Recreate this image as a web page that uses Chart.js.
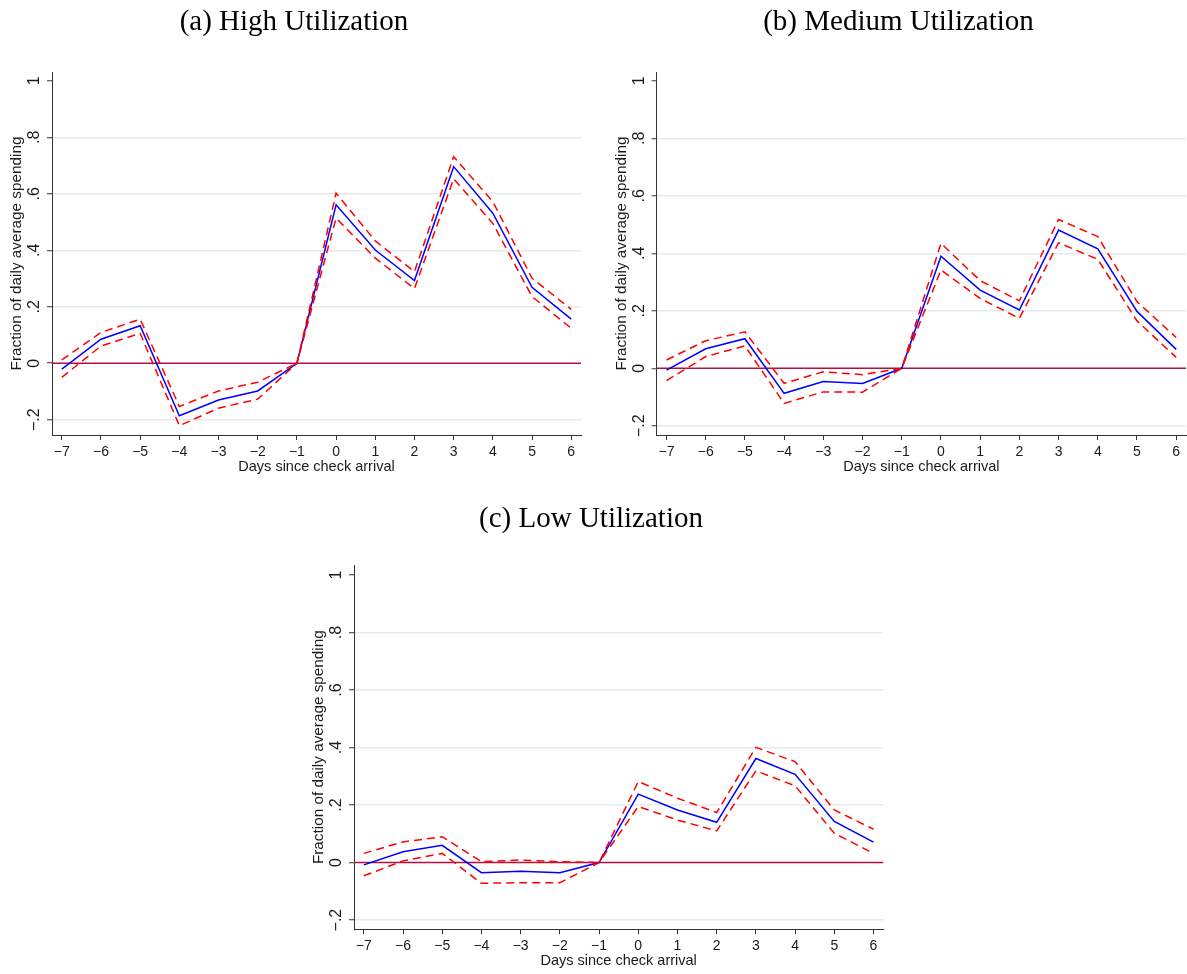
<!DOCTYPE html>
<html>
<head>
<meta charset="utf-8">
<script src="https://cdn.jsdelivr.net/npm/chart.js@4.4.1/dist/chart.umd.min.js"></script>
<style>
  html, body { margin: 0; padding: 0; background: #ffffff; }
  body { width: 1187px; height: 974px; position: relative; overflow: hidden; }
  canvas { position: absolute; }
</style>
</head>
<body>
<canvas id="panelA" width="595" height="480" style="left:0px;top:0px;width:595px;height:480px"></canvas>
<canvas id="panelB" width="592" height="480" style="left:595px;top:0px;width:592px;height:480px"></canvas>
<canvas id="panelC" width="600" height="484" style="left:295px;top:490px;width:600px;height:484px"></canvas>
<script>
// Days relative to the check arrival
const days = [-7, -6, -5, -4, -3, -2, -1, 0, 1, 2, 3, 4, 5, 6];

// High utilization: point estimate and 95% band
const highMean  = [-0.021, 0.085, 0.133, -0.186, -0.130, -0.098, 0, 0.561, 0.401, 0.293, 0.696, 0.531, 0.269, 0.156];
const highUpper = [0.012, 0.109, 0.156, -0.153, -0.098, -0.067, 0, 0.602, 0.433, 0.324, 0.731, 0.572, 0.301, 0.191];
const highLower = [-0.050, 0.061, 0.106, -0.221, -0.159, -0.127, 0, 0.514, 0.372, 0.264, 0.653, 0.495, 0.236, 0.124];

// Medium utilization
const medMean  = [-0.006, 0.068, 0.103, -0.087, -0.046, -0.053, 0, 0.390, 0.272, 0.203, 0.481, 0.416, 0.198, 0.066];
const medUpper = [0.029, 0.096, 0.127, -0.052, -0.012, -0.022, 0, 0.435, 0.305, 0.235, 0.518, 0.458, 0.232, 0.107];
const medLower = [-0.043, 0.041, 0.078, -0.122, -0.082, -0.083, 0, 0.342, 0.243, 0.174, 0.437, 0.379, 0.165, 0.038];

// Low utilization
const lowMean  = [-0.008, 0.038, 0.060, -0.035, -0.030, -0.035, 0, 0.238, 0.183, 0.140, 0.362, 0.307, 0.143, 0.071];
const lowUpper = [0.032, 0.072, 0.090, 0.003, 0.009, 0.003, 0, 0.282, 0.224, 0.174, 0.401, 0.351, 0.183, 0.116];
const lowLower = [-0.046, 0.006, 0.032, -0.072, -0.070, -0.070, 0, 0.195, 0.148, 0.110, 0.319, 0.267, 0.102, 0.032];

// Axis ticks
const xTickValues = [-7, -6, -5, -4, -3, -2, -1, 0, 1, 2, 3, 4, 5, 6];
const xTickLabels = ['\u22127', '\u22126', '\u22125', '\u22124', '\u22123', '\u22122', '\u22121', '0', '1', '2', '3', '4', '5', '6'];
const yTickValues = [-0.2, 0, 0.2, 0.4, 0.6, 0.8, 1];
const yTickLabels = ['\u2212.2', '0', '.2', '.4', '.6', '.8', '1'];
const yGridValues = [-0.2, 0.2, 0.4, 0.6, 0.8];

const panelTitles = ['(a) High Utilization', '(b) Medium Utilization', '(c) Low Utilization'];
const xAxisTitle = 'Days since check arrival';
const yAxisTitle = 'Fraction of daily average spending';

const SANS = '"Liberation Sans", Arial, Helvetica, sans-serif';
const SERIF = '"Liberation Serif", "Times New Roman", serif';
const AXIS_COLOR = '#333333';
const TEXT_COLOR = '#1a1a1a';

function pts(vals) {
  return days.map((d, i) => ({ x: d, y: vals[i] }));
}

// Draws the zero reference line, tick labels, axis titles and panel title
const decorations = {
  id: 'decorations',
  beforeDatasetsDraw(chart) {
    const { ctx, chartArea, scales } = chart;
    const y0 = scales.y.getPixelForValue(0);
    ctx.save();
    ctx.strokeStyle = '#b3123f';
    ctx.lineWidth = 1.5;
    ctx.beginPath();
    ctx.moveTo(chartArea.left, y0);
    ctx.lineTo(chartArea.right, y0);
    ctx.stroke();
    ctx.restore();
  },
  afterDraw(chart) {
    const { ctx, chartArea, scales } = chart;
    const o = chart.options.plugins.decorations;
    ctx.save();
    ctx.fillStyle = TEXT_COLOR;
    ctx.textAlign = 'center';
    ctx.textBaseline = 'middle';
    ctx.font = '14px ' + SANS;
    xTickValues.forEach((v, i) => {
      ctx.fillText(xTickLabels[i], scales.x.getPixelForValue(v), chartArea.bottom + 17);
    });
    ctx.font = '14.5px ' + SANS;
    ctx.fillText(xAxisTitle, (chartArea.left + chartArea.right) / 2, chartArea.bottom + 32);
    ctx.font = '16px ' + SANS;
    yTickValues.forEach((v, i) => {
      ctx.save();
      ctx.translate(chartArea.left - 17, scales.y.getPixelForValue(v));
      ctx.rotate(-Math.PI / 2);
      ctx.fillText(yTickLabels[i], 0, 0);
      ctx.restore();
    });
    ctx.font = '15.3px ' + SANS;
    ctx.save();
    ctx.translate(chartArea.left - 35, (chartArea.top + chartArea.bottom) / 2);
    ctx.rotate(-Math.PI / 2);
    ctx.fillText(yAxisTitle, 0, 0);
    ctx.restore();
    ctx.fillStyle = '#000000';
    ctx.font = '29px ' + SERIF;
    ctx.textBaseline = 'alphabetic';
    ctx.fillText(o.title, o.titleX, o.titleY);
    ctx.restore();
  }
};

function makePanel(id, mean, upper, lower, cfg) {
  const band = {
    borderColor: '#ff0000',
    borderWidth: 1.5,
    borderDash: [8, 5],
    pointRadius: 0,
    tension: 0,
    fill: false
  };
  new Chart(document.getElementById(id), {
    type: 'line',
    data: {
      datasets: [
        Object.assign({ label: 'Upper bound', data: pts(upper) }, band),
        Object.assign({ label: 'Lower bound', data: pts(lower) }, band),
        {
          label: 'Estimate',
          data: pts(mean),
          borderColor: '#0000ff',
          borderWidth: 1.5,
          pointRadius: 0,
          tension: 0,
          fill: false
        }
      ]
    },
    options: {
      responsive: false,
      animation: false,
      events: [],
      layout: { padding: { top: cfg.top, right: cfg.right, left: 0, bottom: 0 } },
      plugins: {
        legend: { display: false },
        tooltip: { enabled: false },
        decorations: { title: cfg.title, titleX: cfg.titleX, titleY: cfg.titleY }
      },
      scales: {
        x: {
          type: 'linear',
          min: -7.25,
          max: 6.25,
          afterBuildTicks: s => { s.ticks = xTickValues.map(v => ({ value: v })); },
          afterFit: s => { s.height = cfg.xHeight; },
          ticks: { display: false },
          grid: { drawOnChartArea: false, drawTicks: true, tickLength: 5, tickColor: AXIS_COLOR, tickWidth: 1 },
          border: { display: true, color: AXIS_COLOR, width: 1 }
        },
        y: {
          type: 'linear',
          min: cfg.yMin,
          max: cfg.yMax,
          afterBuildTicks: s => { s.ticks = yTickValues.map(v => ({ value: v })); },
          afterFit: s => { s.width = cfg.yWidth; },
          ticks: { display: false },
          grid: {
            drawOnChartArea: true,
            drawTicks: true,
            tickLength: 5,
            tickColor: AXIS_COLOR,
            tickWidth: 1,
            lineWidth: 1.5,
            color: c => (c.tick && yGridValues.some(g => Math.abs(g - c.tick.value) < 1e-9)) ? '#e3ebee' : 'rgba(0,0,0,0)'
          },
          border: { display: true, color: AXIS_COLOR, width: 1 }
        }
      }
    },
    plugins: [decorations]
  });
}

makePanel('panelA', highMean, highUpper, highLower, {
  top: 72, right: 14, xHeight: 45, yWidth: 52,
  yMin: -0.254, yMax: 1.031,
  title: panelTitles[0], titleX: 294, titleY: 30
});
makePanel('panelB', medMean, medUpper, medLower, {
  top: 72, right: 1, xHeight: 45, yWidth: 61.7,
  yMin: -0.232, yMax: 1.031,
  title: panelTitles[1], titleX: 303.5, titleY: 30
});
makePanel('panelC', lowMean, lowUpper, lowLower, {
  top: 75, right: 11.7, xHeight: 44.7, yWidth: 59,
  yMin: -0.232, yMax: 1.035,
  title: panelTitles[2], titleX: 296, titleY: 36.5
});
</script>
</body>
</html>
